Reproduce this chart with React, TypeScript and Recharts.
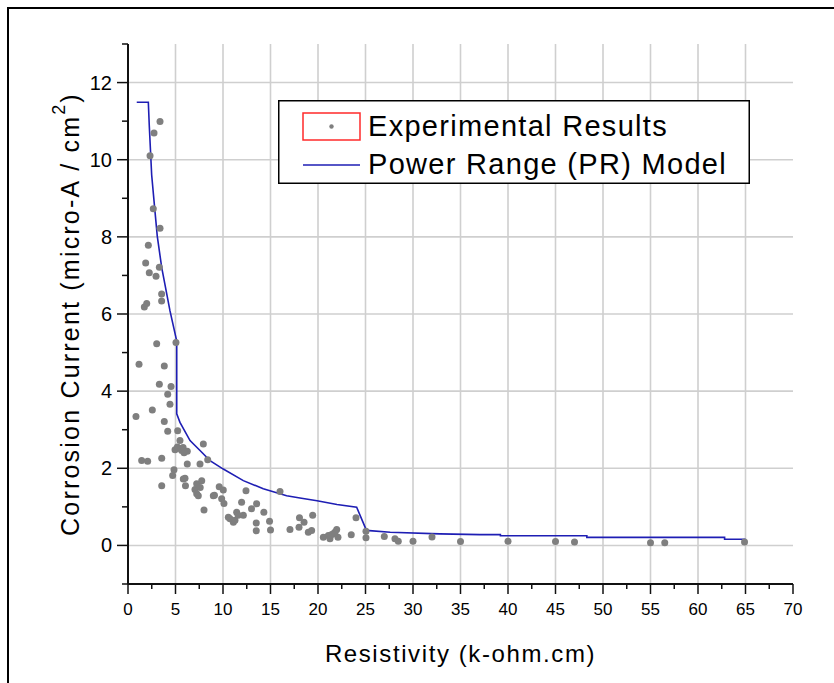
import { ComposedChart, Scatter, Line, XAxis, YAxis, CartesianGrid, Legend } from 'recharts';

const FONT = "'Liberation Sans', Arial, sans-serif";

// experimental points (resistivity, corrosion current)
const expX = [
    0.84, 1.16, 1.44, 1.72, 1.86, 1.97, 2.07, 2.14, 2.24, 2.32, 2.56, 2.66, 2.74, 2.95, 3.02, 3.3, 3.3, 3.37, 3.37, 3.54,
    3.54, 3.55, 3.55, 3.82, 3.82, 4.18, 4.18, 4.42, 4.53, 4.7, 4.84, 4.95, 5.05, 5.23, 5.47, 5.47, 5.65, 5.8, 5.82, 6.0,
    6.05, 6.24, 6.24, 7.05, 7.23, 7.23, 7.4, 7.58, 7.76, 7.93, 8.0, 8.39, 8.98, 9.1, 9.6, 10.03, 9.86, 10.1, 10.56, 10.74,
    11.09, 11.26, 11.44, 11.6, 12.14, 12.42, 11.96, 13.0, 13.54, 13.5, 13.5, 14.3, 14.9, 15.0, 16.0, 17.05, 18.0, 18.05, 18.53, 18.98,
    19.33, 19.44, 20.56, 21.09, 21.26, 21.6, 21.97, 22.1, 23.5, 24.0, 25.05, 25.05, 26.98, 28.1, 28.45, 30.0, 32.0, 35.0, 40.0, 45.0,
    47.0, 55.0, 56.5, 64.9, 5.2, 5.9, 7.6, 21.8, 21.4,
];
const expY = [
    3.34, 4.7, 2.2, 6.18, 7.32, 6.27, 2.18, 7.78, 7.07, 10.1, 3.51, 8.73, 10.69, 6.98, 5.23, 7.21, 4.18, 10.99, 8.22, 6.52,
    6.34, 2.26, 1.55, 4.65, 3.21, 3.92, 2.96, 3.66, 4.12, 1.81, 1.96, 2.48, 5.26, 2.97, 2.72, 2.51, 2.46, 2.54, 1.72, 1.74,
    1.55, 2.44, 2.11, 1.45, 1.34, 1.6, 1.29, 2.11, 1.68, 2.63, 0.92, 2.22, 1.29, 1.3, 1.52, 1.44, 1.21, 1.09, 0.73, 0.69,
    0.6, 0.65, 0.86, 0.78, 0.78, 1.42, 1.12, 0.95, 1.08, 0.58, 0.38, 0.86, 0.63, 0.4, 1.4, 0.41, 0.47, 0.72, 0.6, 0.34,
    0.39, 0.78, 0.21, 0.26, 0.17, 0.3, 0.41, 0.21, 0.28, 0.72, 0.37, 0.2, 0.23, 0.17, 0.11, 0.11, 0.22, 0.1, 0.11, 0.1,
    0.09, 0.07, 0.07, 0.09, 2.55, 2.4, 1.5, 0.35, 0.28,
];

// PR model curve
const modelX = [
    0.92, 2.14, 2.24, 2.49, 2.84, 3.08, 3.55, 4.42, 5.13, 5.13, 5.47, 6.53, 7.58, 8.63, 10.03, 12.14, 14.24, 16.7, 18.1, 19.9,
    22.0, 24.07, 25.1, 27.6, 32.8, 37.05, 39.2, 39.2, 48.3, 48.3, 62.8, 62.8, 65.0,
];
const modelY = [
    11.49, 11.49, 10.88, 9.61, 8.66, 8.02, 7.2, 6.08, 5.3, 3.41, 3.19, 2.72, 2.46, 2.2, 1.98, 1.68, 1.47, 1.29, 1.23, 1.16,
    1.06, 0.99, 0.39, 0.34, 0.3, 0.28, 0.28, 0.25, 0.25, 0.21, 0.21, 0.16, 0.16,
];

const xTicks = [0, 2.5, 5, 7.5, 10, 12.5, 15, 17.5, 20, 22.5, 25, 27.5, 30, 32.5, 35, 37.5, 40, 42.5, 45, 47.5, 50, 52.5, 55, 57.5, 60, 62.5, 65, 67.5, 70];
const yTicks = [-1, 0, 1, 2, 3, 4, 5, 6, 7, 8, 9, 10, 11, 12, 13];
const xGrid = [5, 10, 15, 20, 25, 30, 35, 40, 45, 50, 55, 60, 65];
const yGrid = [0, 2, 4, 6, 8, 10, 12];

const expData = expX.map((x, i) => ({ x, y: expY[i] }));
const modelData = modelX.map((x, i) => ({ x, y: modelY[i] }));

const XTick = (props: any) => {
    const { x, y, payload } = props;
    const major = payload.value % 5 === 0;
    return (
        <g>
            <line x1={x} x2={x} y1={y} y2={y + (major ? 10 : 5)} stroke="#111" strokeWidth={1.5} />
            {major && (
                <text x={x} y={y + 25} textAnchor="middle" dominantBaseline="central" fontSize={17} fontFamily={FONT} fill="#000">
                    {payload.value}
                </text>
            )}
        </g>
    );
};

const YTick = (props: any) => {
    const { x, y, payload } = props;
    const major = payload.value % 2 === 0;
    return (
        <g>
            <line x1={x} x2={x - (major ? 11 : 6)} y1={y} y2={y} stroke="#111" strokeWidth={1.5} />
            {major && (
                <text x={x - 16} y={y} textAnchor="end" dominantBaseline="central" fontSize={20} fontFamily={FONT} fill="#000">
                    {payload.value}
                </text>
            )}
        </g>
    );
};

const XTitle = (props: any) => {
    const { x, y, width } = props.viewBox;
    return (
        <text x={x + width / 2} y={y + 69} textAnchor="middle" dominantBaseline="central" fontSize={24} letterSpacing={1.6} fontFamily={FONT} fill="#000">
            Resistivity (k-ohm.cm)
        </text>
    );
};

const YTitle = (props: any) => {
    const { x, y, height } = props.viewBox;
    const cx = x + 70;
    const cy = y + height / 2;
    return (
        <text x={cx} y={cy} transform={`rotate(-90, ${cx}, ${cy})`} textAnchor="middle" dominantBaseline="central" fontSize={25} letterSpacing={2.2} fontFamily={FONT} fill="#000">
            Corrosion Current (micro-A / cm
            <tspan dy={-11} fontSize={18}>2</tspan>
            <tspan dy={11}>)</tspan>
        </text>
    );
};

const LegendBox = () => (
    <svg width={472} height={84} style={{ display: 'block' }}>
        <rect x={0.75} y={0.75} width={470.5} height={82.5} fill="#fff" stroke="#000" strokeWidth={1.5} />
        <rect x={25} y={13} width={57} height={27} fill="#fff" stroke="#ff2a2a" strokeWidth={1.5} />
        <circle cx={53.5} cy={26.5} r={2.2} fill="#7f7f7f" />
        <text x={90} y={26} dominantBaseline="central" fontSize={29} letterSpacing={1.3} fontFamily={FONT} fill="#000">
            Experimental Results
        </text>
        <line x1={25} x2={82} y1={65} y2={65} stroke="#1e1eb4" strokeWidth={1.6} />
        <text x={90} y={64} dominantBaseline="central" fontSize={29} letterSpacing={1.3} fontFamily={FONT} fill="#000">
            Power Range (PR) Model
        </text>
    </svg>
);

export default function App() {
    return (
        <div style={{ position: 'absolute', left: 0, top: 0, width: 834, height: 683, overflow: 'hidden', background: '#fff' }}>
            <div style={{ position: 'absolute', left: 7, top: 7, width: 2000, height: 2000, borderLeft: '2px solid #000', borderTop: '2px solid #000' }} />
            <div style={{ position: 'absolute', left: 0, top: 0 }}>
                <ComposedChart width={834} height={683} margin={{ top: 44, right: 41, left: 0, bottom: 0 }}>
                    <CartesianGrid horizontalValues={yGrid} verticalValues={xGrid} stroke="#cfcfcf" strokeWidth={1.6} />
                    <XAxis
                        type="number"
                        dataKey="x"
                        domain={[0, 70]}
                        ticks={xTicks}
                        interval={0}
                        height={99}
                        tickSize={0}
                        tickMargin={0}
                        tickLine={false}
                        tick={<XTick />}
                        axisLine={{ stroke: '#111', strokeWidth: 2 }}
                        allowDataOverflow
                        label={<XTitle />}
                    />
                    <YAxis
                        type="number"
                        dataKey="y"
                        domain={[-1, 13]}
                        ticks={yTicks}
                        interval={0}
                        width={128}
                        tickSize={0}
                        tickMargin={0}
                        tickLine={false}
                        tick={<YTick />}
                        axisLine={{ stroke: '#111', strokeWidth: 2 }}
                        allowDataOverflow
                        label={<YTitle />}
                    />
                    <Scatter
                        name="Experimental Results"
                        data={expData}
                        dataKey="y"
                        isAnimationActive={false}
                        shape={(p: any) => <circle cx={p.cx} cy={p.cy} r={3.5} fill="#7f7f7f" />}
                    />
                    <Line
                        name="Power Range (PR) Model"
                        data={modelData}
                        dataKey="y"
                        type="linear"
                        stroke="#1e1eb4"
                        strokeWidth={1.6}
                        dot={false}
                        isAnimationActive={false}
                    />
                    <Legend
                        layout="vertical"
                        align="center"
                        verticalAlign="middle"
                        wrapperStyle={{ left: 278, top: 100, width: 472, height: 84 }}
                        content={<LegendBox />}
                    />
                </ComposedChart>
            </div>
        </div>
    );
}
